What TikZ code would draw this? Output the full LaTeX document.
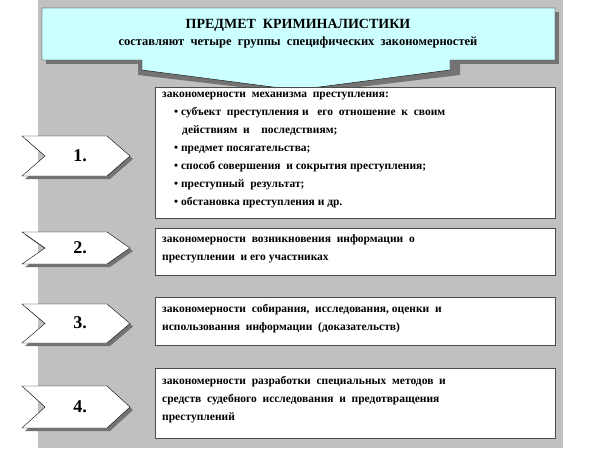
\documentclass[tikz,border=0pt]{standalone}
\usepackage{fontspec}
\setmainfont{Liberation Serif}
\usetikzlibrary{positioning}
\definecolor{bggray}{HTML}{C0C0C0}
\definecolor{callcyan}{HTML}{CCFFFF}
\tikzset{
  framebox/.style={draw=black!70, fill=white, anchor=north west, minimum width=400pt, minimum height=#1, inner sep=0pt},
  txt/.style={anchor=north west, align=left, inner sep=0pt, font=\bfseries\fontsize{11.5}{18}\selectfont},
  numtag/.style={font=\bfseries\fontsize{18}{18}\selectfont}
}
\newcommand{\chev}[3]{% x, ytop, ybottom
  \fill[black!55] (#1+3,#2+3) -- (#1+88,#2+3) -- (#1+111,{(#2+#3)/2+3}) -- (#1+88,#3+3) -- (#1+3,#3+3) -- (#1+26,{(#2+#3)/2+3}) -- cycle;
  \draw[fill=white] (#1,#2) -- (#1+85,#2) -- (#1+108,{(#2+#3)/2}) -- (#1+85,#3) -- (#1,#3) -- (#1+23,{(#2+#3)/2}) -- cycle;
}
\newcommand{\bul}{\textbullet\ }
\begin{document}
\begin{tikzpicture}[x=1pt,y=-1pt]
\useasboundingbox (0,0) rectangle (600,448);
\fill[bggray] (38,0) rectangle (563,448);
% callout with arrow
\fill[black!55] (46,12) rectangle (559,64);
\fill[black!55] (138,64) -- (460,64) -- (460,75) -- (300,94) -- (138,75) -- cycle;
\draw[fill=callcyan] (42,8) -- (555,8) -- (555,60) -- (450,60) -- (450,70) -- (296,90) -- (142,70) -- (142,60) -- (42,60) -- cycle;
\node[font=\bfseries\fontsize{14}{17}\selectfont, align=center] (title) at (298,34)
  {ПРЕДМЕТ\ \ КРИМИНАЛИСТИКИ\\\fontsize{12.5}{15}\selectfont составляют\ \ четыре\ \ группы\ \ специфических\ \ закономерностей};
% boxes
\node[framebox=131pt] (b1) at (155,87) {};
\node[framebox=47pt] (b2) at (155,228) {};
\node[framebox=48pt] (b3) at (155,297) {};
\node[framebox=70pt] (b4) at (155,368) {};
\node[txt] (t1) at (162,92) {закономерности\ \ механизма\ \ преступления:\\
  \hspace*{12pt}\bul субъект\ \ преступления и\ \ \ его\ \ отношение\ \ к\ \ своим\\
  \hspace*{20pt}действиям\ \ и\ \ \ \ последствиям;\\
  \hspace*{12pt}\bul предмет посягательства;\\
  \hspace*{12pt}\bul способ совершения\ \ и сокрытия преступления;\\
  \hspace*{12pt}\bul преступный\ \ результат;\\
  \hspace*{12pt}\bul обстановка преступления и др.};
\node[txt] (t2) at (162,234) {закономерности\ \ возникновения\ \ информации\ \ о\\преступлении\ \ и его участниках};
\node[txt] (t3) at (162,304) {закономерности\ \ собирания,\ \ исследования,\ оценки\ \ и\\использования\ \ информации\ \ (доказательств)};
\node[txt] (t4) at (162,376) {закономерности\ \ разработки\ \ специальных\ \ методов\ \ и\\средств\ \ судебного\ \ исследования\ \ и\ \ предотвращения\\преступлений};
% chevrons
\chev{22}{136}{176}
\chev{22}{232}{264}
\chev{22}{304}{343}
\chev{22}{386}{428}
\node[numtag] (n1) at (80,156) {1.};
\node[numtag] (n2) at (80,248) {2.};
\node[numtag] (n3) at (80,323) {3.};
\node[numtag] (n4) at (80,407) {4.};
\end{tikzpicture}
\end{document}
